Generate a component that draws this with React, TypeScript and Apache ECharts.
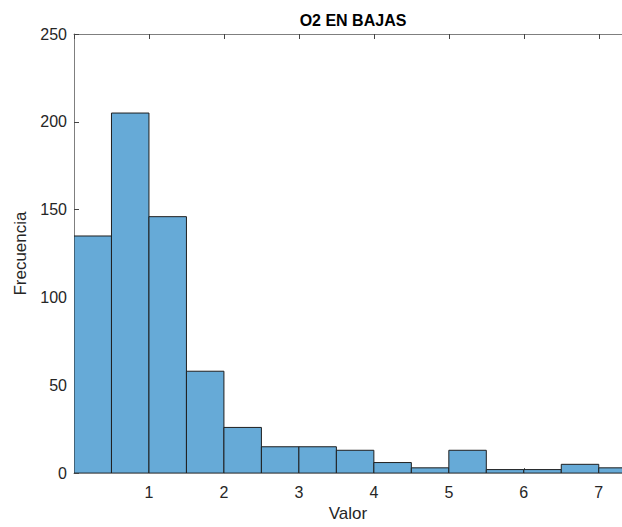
import React, { useEffect, useRef } from "react";
import * as echarts from "echarts";

const binStarts = [0, 0.5, 1, 1.5, 2, 2.5, 3, 3.5, 4, 4.5, 5, 5.5, 6, 6.5, 7];
const binWidth = 0.5;
const counts = [135, 205, 146, 58, 26, 15, 15, 13, 6, 3, 13, 2, 2, 5, 3];
const yTicks = [0, 50, 100, 150, 200, 250];
const xTickLabels = ["1", "2", "3", "4", "5", "6", "7"];

export default function App() {
  const ref = useRef<HTMLDivElement>(null);
  useEffect(() => {
    if (!ref.current) return;
    const chart = echarts.init(ref.current, null, { renderer: "svg" });
    const data = binStarts.map((s, i) => [s, s + binWidth, counts[i]]);
    const axisColor = "#7f7f7f";
    const textColor = "#262626";
    const font = "'Liberation Sans', Arial, sans-serif";
    chart.setOption({
      animation: false,
      backgroundColor: "#ffffff",
      title: {
        text: "O2 EN BAJAS",
        left: 348,
        top: 7,
        textAlign: "center",
        textStyle: { fontFamily: font, fontWeight: "bold", fontSize: 16, color: "#000" },
      },
      grid: { left: 74, top: 34, right: 0, bottom: 48 },
      xAxis: [
        {
          type: "value",
          min: 0,
          max: 7.31,
          interval: 1,
          name: "Valor",
          nameLocation: "middle",
          nameGap: 31,
          nameTextStyle: { fontFamily: font, fontSize: 17, color: textColor },
          axisLine: { show: true, lineStyle: { color: axisColor, width: 1 } },
          axisTick: { show: true, inside: true, length: 5, lineStyle: { color: "#444" } },
          axisLabel: {
            fontFamily: font,
            fontSize: 16,
            color: textColor,
            margin: 11,
            showMaxLabel: false,
            formatter: (v: number) => {
              const s = String(Math.round(v));
              return xTickLabels.includes(s) && Math.abs(v - Math.round(v)) < 1e-6 ? s : "";
            },
          },
          splitLine: { show: false },
        },
        {
          type: "value",
          position: "top",
          min: 0,
          max: 7.31,
          interval: 1,
          axisLine: { show: true, lineStyle: { color: axisColor, width: 1 } },
          axisTick: { show: true, inside: true, length: 5, lineStyle: { color: "#444" } },
          axisLabel: { show: false },
          splitLine: { show: false },
        },
      ],
      yAxis: {
        type: "value",
        min: yTicks[0],
        max: yTicks[yTicks.length - 1],
        interval: 50,
        name: "Frecuencia",
        nameLocation: "middle",
        nameGap: 44,
        nameTextStyle: { fontFamily: font, fontSize: 17, color: textColor },
        axisLine: { show: true, lineStyle: { color: axisColor, width: 1 } },
        axisTick: { show: true, inside: true, length: 5, lineStyle: { color: "#444" } },
        axisLabel: { fontFamily: font, fontSize: 16, color: textColor, margin: 7 },
        splitLine: { show: false },
      },
      series: [
        {
          type: "custom",
          clip: true,
          data,
          encode: { x: [0, 1], y: 2 },
          renderItem: (params: any, api: any) => {
            const p0 = api.coord([api.value(0), api.value(2)]);
            const p1 = api.coord([api.value(1), 0]);
            return {
              type: "rect",
              shape: { x: p0[0], y: p0[1], width: p1[0] - p0[0], height: p1[1] - p0[1] },
              style: { fill: "#66AAD7", stroke: "#1f1f1f", lineWidth: 1 },
            };
          },
        },
      ],
    });
    return () => chart.dispose();
  }, []);
  return (
    <div
      ref={ref}
      style={{ position: "absolute", left: 0, top: 0, width: 622, height: 527, background: "#fff" }}
    />
  );
}
